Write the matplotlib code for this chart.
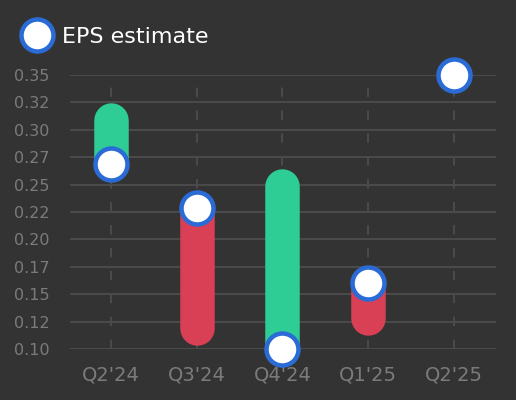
import matplotlib
matplotlib.use("Agg")
import matplotlib.pyplot as plt
from matplotlib.lines import Line2D

quarters = ["Q2'24", "Q3'24", "Q4'24", "Q1'25", "Q2'25"]
estimate = [0.269, 0.229, 0.100, 0.160, 0.350]
actual = [0.309, 0.119, 0.249, 0.128, None]
ytick_vals = [0.10, 0.125, 0.15, 0.175, 0.20, 0.225, 0.25, 0.275, 0.30, 0.325, 0.35]
ytick_labels = ["0.10", "0.12", "0.15", "0.17", "0.20", "0.22", "0.25", "0.27", "0.30", "0.32", "0.35"]

BG = "#333333"
GREEN = "#2ecd96"
RED = "#d94055"
BLUE = "#2b6bd6"
GRID = "#4a4a4a"
TICK = "#7b7b7b"

W, H = 516, 400
fig = plt.figure(figsize=(W / 100, H / 100), dpi=100, facecolor=BG)
L, R, T, B = 70, 496, 75, 349
ax = fig.add_axes([L / W, (H - B) / H, (R - L) / W, (B - T) / H])
ax.set_facecolor(BG)
for s in ax.spines.values():
    s.set_visible(False)

ax.set_ylim(0.10, 0.35)
ax.set_xlim(-0.478, 4.49)

# gridlines
for v in ytick_vals:
    ax.axhline(v, color=GRID, lw=1.5, zorder=0)
for i in range(len(quarters)):
    ax.axvline(i, color=GRID, lw=1.5, ls=(0, (4.5, 6.5)), zorder=0)

px = 72 / 100  # points per pixel
for i, (e, a) in enumerate(zip(estimate, actual)):
    if a is None:
        continue
    col = GREEN if a >= e else RED
    ax.plot([i, i], [e, a], color=col, lw=34.5 * px, solid_capstyle="round", zorder=2, clip_on=False)

ax.plot(range(len(quarters)), estimate, ls="none", marker="o", ms=32 * px, mfc="white",
        mec=BLUE, mew=4.5 * px, zorder=3, clip_on=False)

ax.set_yticks(ytick_vals)
ax.set_yticklabels(ytick_labels)
ax.set_xticks(range(len(quarters)))
ax.set_xticklabels(quarters)
ax.tick_params(axis="y", length=0, pad=15, labelsize=11.5, labelcolor=TICK)
ax.tick_params(axis="x", length=0, pad=12, labelsize=14, labelcolor=TICK)

handle = Line2D([], [], ls="none", marker="o", ms=32 * px, mfc="white", mec=BLUE, mew=4.5 * px)
fig.legend(handles=[handle], labels=["EPS estimate"], loc="center left",
           bbox_to_anchor=(21 / W, 1 - 37 / H), frameon=False, fontsize=16,
           labelcolor="white", handlelength=1.4, handletextpad=0.45, borderaxespad=0, borderpad=0)

fig.savefig("out.png", dpi=100, facecolor=BG)
